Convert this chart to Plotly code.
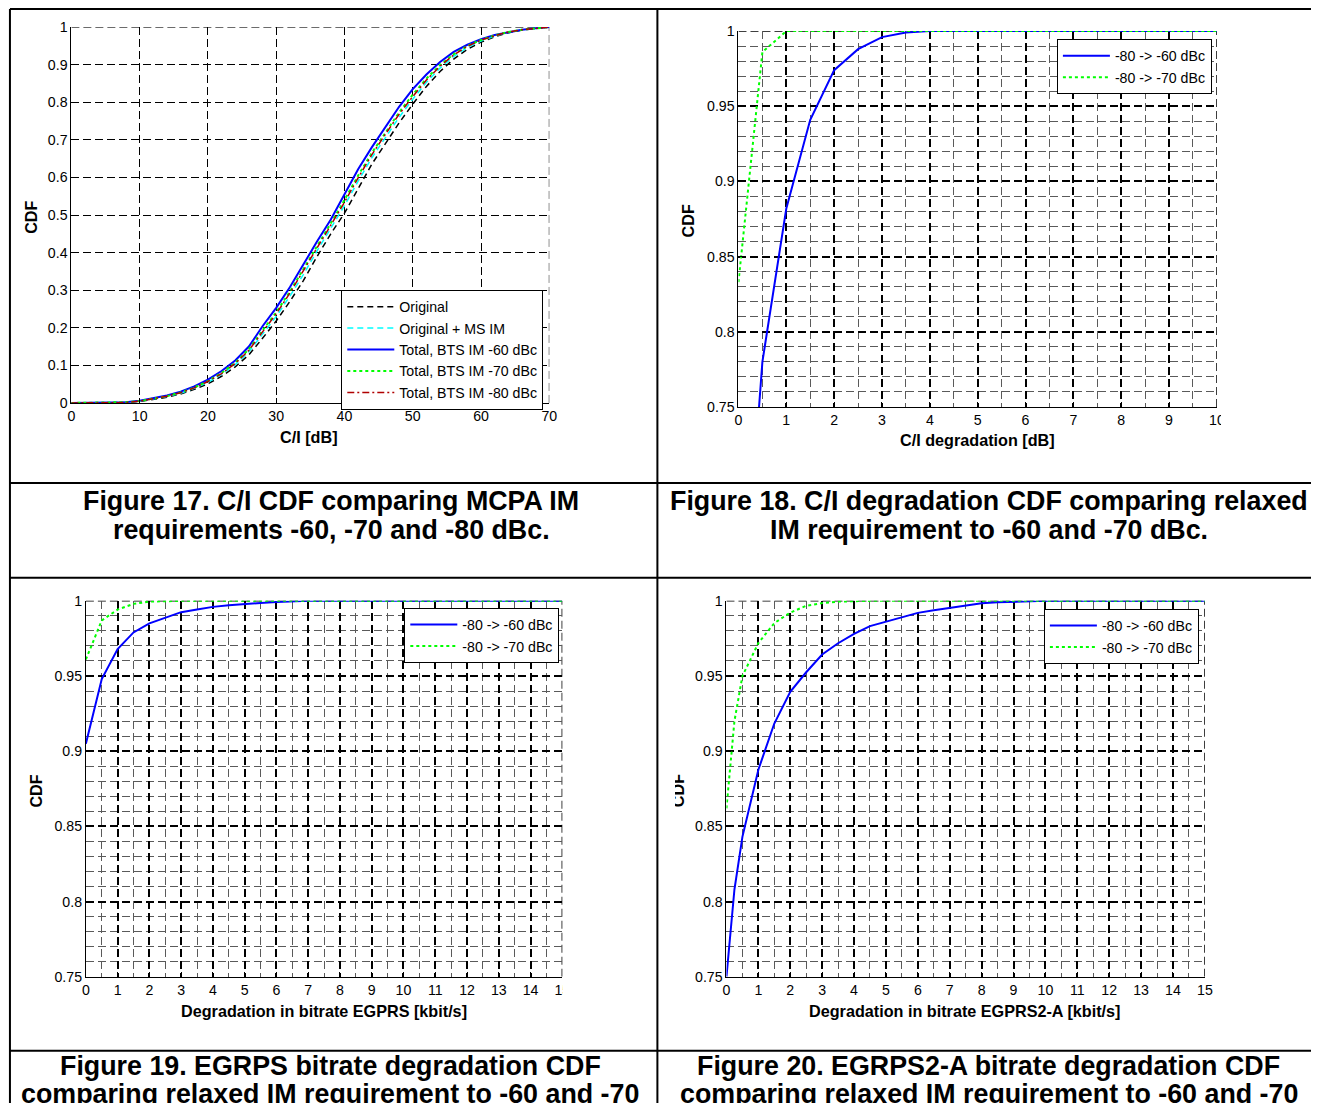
import plotly.graph_objects as go

W, H = 1319, 1111
FONT = "Liberation Sans, Arial, Helvetica, sans-serif"

# ---------------- data ----------------
# Figure 17: C/I CDF
ci_x = [0, 5, 8, 10, 12, 14, 16, 18, 20, 22, 24, 26, 28, 30, 32, 34, 36, 38, 40,
        42, 44, 46, 48, 50, 52, 54, 56, 58, 60, 62, 64, 66, 68, 70]
ci_original = [0, 0, 0.001, 0.004, 0.009, 0.015, 0.024, 0.036, 0.051, 0.071, 0.096, 0.128,
               0.172, 0.218, 0.27, 0.326, 0.39, 0.45, 0.505, 0.572, 0.635, 0.69, 0.745,
               0.795, 0.842, 0.882, 0.915, 0.941, 0.96, 0.974, 0.985, 0.992, 0.997, 1.0]
ci_original_ms = [0, 0, 0.001, 0.005, 0.01, 0.017, 0.026, 0.039, 0.055, 0.076, 0.102, 0.136,
                  0.183, 0.23, 0.284, 0.342, 0.405, 0.466, 0.525, 0.59, 0.652, 0.706, 0.76,
                  0.808, 0.853, 0.891, 0.922, 0.946, 0.963, 0.976, 0.986, 0.993, 0.997, 1.0]
ci_bts60 = [0, 0, 0.002, 0.006, 0.012, 0.02, 0.03, 0.044, 0.062, 0.085, 0.113, 0.15,
            0.204, 0.253, 0.308, 0.37, 0.43, 0.488, 0.553, 0.622, 0.68, 0.735, 0.788,
            0.835, 0.874, 0.907, 0.934, 0.953, 0.968, 0.979, 0.987, 0.993, 0.997, 1.0]
ci_bts70 = [0, 0, 0.002, 0.005, 0.011, 0.018, 0.028, 0.041, 0.058, 0.08, 0.107, 0.143,
            0.193, 0.241, 0.296, 0.356, 0.418, 0.478, 0.54, 0.605, 0.665, 0.72, 0.773,
            0.82, 0.863, 0.899, 0.928, 0.95, 0.966, 0.978, 0.987, 0.993, 0.997, 1.0]
ci_bts80 = [0, 0, 0.001, 0.005, 0.011, 0.018, 0.027, 0.04, 0.057, 0.078, 0.105, 0.14,
            0.189, 0.237, 0.292, 0.351, 0.413, 0.473, 0.534, 0.599, 0.66, 0.715, 0.768,
            0.815, 0.859, 0.896, 0.926, 0.949, 0.965, 0.977, 0.987, 0.993, 0.997, 1.0]
ci_names = ["Original", "Original + MS IM", "Total, BTS IM -60 dBc",
            "Total, BTS IM -70 dBc", "Total, BTS IM -80 dBc"]

# Figure 18: C/I degradation CDF
deg_x = [0, 0.5, 1, 1.5, 2, 2.5, 3, 3.5, 4, 4.5, 5, 5.5, 6, 6.5, 7, 7.5, 8, 8.5, 9, 9.5, 10]
deg_60 = [0.565, 0.780, 0.882, 0.941, 0.974, 0.988, 0.996, 0.999, 1, 1, 1,
          1, 1, 1, 1, 1, 1, 1, 1, 1, 1]
deg_70 = [0.833, 0.986, 1, 1, 1, 1, 1, 1, 1, 1, 1,
          1, 1, 1, 1, 1, 1, 1, 1, 1, 1]

# Figure 19: EGPRS bitrate degradation CDF
egprs_x = [0, 0.5, 1, 1.5, 2, 2.5, 3, 3.5, 4, 4.5, 5, 5.5, 6, 6.5, 7, 7.5,
           8, 8.5, 9, 9.5, 10, 10.5, 11, 11.5, 12, 12.5, 13, 13.5, 14, 14.5, 15]
egprs_60 = [0.905, 0.948, 0.968, 0.979, 0.985, 0.989, 0.9925, 0.9942, 0.996, 0.997,
            0.998, 0.9986, 0.9992, 0.9997, 1, 1, 1, 1, 1, 1, 1, 1, 1, 1, 1, 1, 1, 1, 1, 1, 1]
egprs_70 = [0.961, 0.987, 0.9942, 0.998, 0.9995, 1, 1, 1, 1, 1, 1, 1, 1, 1, 1, 1,
            1, 1, 1, 1, 1, 1, 1, 1, 1, 1, 1, 1, 1, 1, 1]

# Figure 20: EGPRS2-A bitrate degradation CDF
egprs2_x = [0, 0.25, 0.5, 1, 1.5, 2, 2.5, 3, 3.5, 4, 4.5, 5, 5.5, 6, 6.5, 7, 7.5,
            8, 8.5, 9, 9.5, 10, 10.5, 11, 11.5, 12, 12.5, 13, 13.5, 14, 14.5, 15]
egprs2_60 = [0.75, 0.808, 0.843, 0.8877, 0.9184, 0.9395, 0.9525, 0.9643, 0.9718, 0.978,
             0.9832, 0.9862, 0.9893, 0.992, 0.9938, 0.9952, 0.997, 0.9984, 0.999, 0.9995,
             0.9998, 1, 1, 1, 1, 1, 1, 1, 1, 1, 1, 1]
egprs2_70 = [0.862, 0.92, 0.95, 0.9719, 0.9852, 0.9922, 0.9967, 0.9985, 0.9995, 1,
             1, 1, 1, 1, 1, 1, 1, 1, 1, 1, 1, 1, 1, 1, 1, 1, 1, 1, 1, 1, 1, 1]
deg_names = ["-80 -> -60 dBc", "-80 -> -70 dBc"]

# tick labels
ci_xticks = [0, 10, 20, 30, 40, 50, 60, 70]
ci_xtext = ["0", "10", "20", "30", "40", "50", "60", "70"]
ci_yticks = [0, 0.1, 0.2, 0.3, 0.4, 0.5, 0.6, 0.7, 0.8, 0.9, 1]
ci_ytext = ["0", "0.1", "0.2", "0.3", "0.4", "0.5", "0.6", "0.7", "0.8", "0.9", "1"]
deg_xticks = [0, 1, 2, 3, 4, 5, 6, 7, 8, 9, 10]
deg_xtext = ["0", "1", "2", "3", "4", "5", "6", "7", "8", "9", "10"]
br_xticks = [0, 1, 2, 3, 4, 5, 6, 7, 8, 9, 10, 11, 12, 13, 14, 15]
br_xtext = ["0", "1", "2", "3", "4", "5", "6", "7", "8", "9", "10", "11", "12", "13", "14", "15"]
zoom_yticks = [0.75, 0.8, 0.85, 0.9, 0.95, 1]
zoom_ytext = ["0.75", "0.8", "0.85", "0.9", "0.95", "1"]

captions = [
    ("Figure 17. C/I CDF comparing MCPA IM", "requirements -60, -70 and -80 dBc."),
    ("Figure 18. C/I degradation CDF comparing relaxed", "IM requirement to -60 and -70 dBc."),
    ("Figure 19. EGRPS bitrate degradation CDF", "comparing relaxed IM requirement to -60 and -70"),
    ("Figure 20. EGRPS2-A bitrate degradation CDF", "comparing relaxed IM requirement to -60 and -70"),
]
xtitles = ["C/I [dB]", "C/I degradation [dB]", "Degradation in bitrate EGPRS [kbit/s]",
           "Degradation in bitrate EGPRS2-A [kbit/s]"]
ytitle = "CDF"

# ---------------- geometry helpers ----------------
# The photographed page shows the figure slightly shrunk and offset, so positions
# measured on the reference picture are mapped back to figure pixels.
SX, OX = 0.99, 4.2
SY, OY = 0.986, 7.9
SC = (SX + SY) / 2

def pxx(t, lo=1):
    return min(max((t - OX) / SX, lo), W) / W

def pxy(t, lo=1):
    return 1 - min(max((t - OY) / SY, lo), H) / H

def fs(v):
    return round(v / SC, 2)

GRID_DASH = "8px,4px"

def make_axis(dom, rng, tv, tt, minor_dtick=None, anchor=None, gw=1):
    d = dict(domain=dom, range=rng, tickmode="array", tickvals=tv, ticktext=tt,
             showgrid=True, gridcolor="black", gridwidth=gw, griddash=GRID_DASH,
             zeroline=False, showline=True, linecolor="black", linewidth=1,
             ticks="inside", ticklen=5, tickcolor="black", tickwidth=1,
             tickfont=dict(family=FONT, size=fs(14), color="black"), fixedrange=True,
             anchor=anchor, mirror=False)
    if minor_dtick is not None:
        d["minor"] = dict(tickmode="linear", tick0=rng[0], dtick=minor_dtick, showgrid=True,
                          gridcolor="#5a5a5a", gridwidth=1, griddash=GRID_DASH, ticks="")
    return d

fig = go.Figure()

# panel geometry (pixels in the reference picture)
panels = [
    dict(x0=71.5, x1=549, y0=27, y1=403),
    dict(x0=738, x1=1216, y0=31, y1=407),
    dict(x0=86, x1=562, y0=601, y1=977),
    dict(x0=726, x1=1204, y0=601, y1=977),
]

# ---- Figure 17 traces
styles17 = [
    dict(color="black", width=1.5, dash="6px,4px"),
    dict(color="#00FFFF", width=1.5, dash="6px,4px"),
    dict(color="#0000FF", width=2),
    dict(color="#00FF00", width=2, dash="dot"),
    dict(color="#B00000", width=1.5, dash="7px,3px,2px,3px"),
]
for name, ys, st in zip(ci_names, [ci_original, ci_original_ms, ci_bts60, ci_bts70, ci_bts80], styles17):
    fig.add_trace(go.Scatter(x=ci_x, y=ys, name=name, mode="lines", line=st,
                             xaxis="x", yaxis="y", legend="legend", hoverinfo="skip"))

blue = dict(color="#0000FF", width=2)
green = dict(color="#00FF00", width=2, dash="dot")
for ax_i, (xs, y60, y70) in enumerate([(deg_x, deg_60, deg_70),
                                       (egprs_x, egprs_60, egprs_70),
                                       (egprs2_x, egprs2_60, egprs2_70)], start=2):
    leg = "legend%d" % ax_i
    fig.add_trace(go.Scatter(x=xs, y=y60, name=deg_names[0], mode="lines", line=blue,
                             xaxis="x%d" % ax_i, yaxis="y%d" % ax_i, legend=leg, hoverinfo="skip"))
    fig.add_trace(go.Scatter(x=xs, y=y70, name=deg_names[1], mode="lines", line=green,
                             xaxis="x%d" % ax_i, yaxis="y%d" % ax_i, legend=leg, hoverinfo="skip"))

ranges = [([0, 70], [0, 1]), ([0, 10], [0.75, 1]), ([0, 15], [0.75, 1]), ([0, 15], [0.75, 1])]
xt = [(ci_xticks, ci_xtext), (deg_xticks, deg_xtext), (br_xticks, br_xtext), (br_xticks, br_xtext)]
yt = [(ci_yticks, ci_ytext), (zoom_yticks, zoom_ytext), (zoom_yticks, zoom_ytext), (zoom_yticks, zoom_ytext)]

layout = dict(margin=dict(l=0, r=0, t=0, b=0), autosize=True,
              paper_bgcolor="white", plot_bgcolor="white", showlegend=True,
              font=dict(family=FONT, color="black"))
shapes = []
for i, p in enumerate(panels):
    sfx = "" if i == 0 else str(i + 1)
    xdom = [pxx(p["x0"]), pxx(p["x1"])]
    ydom = [pxy(p["y1"]), pxy(p["y0"])]
    minor_x = None if i == 0 else 0.5
    minor_y = None if i == 0 else 0.01
    gw = 1 if i == 0 else 1.5
    layout["xaxis" + sfx] = make_axis(xdom, ranges[i][0], xt[i][0], xt[i][1], minor_x, "y" + sfx, gw)
    layout["yaxis" + sfx] = make_axis(ydom, ranges[i][1], yt[i][0], yt[i][1], minor_y, "x" + sfx, gw)
    xr, yr = ranges[i]
    xref = "x" + sfx
    yref = "y" + sfx
    # dashed frame on top and right (MATLAB grid at axis limits)
    shapes.append(dict(type="line", xref=xref, yref=yref, x0=xr[0], x1=xr[1], y0=yr[1], y1=yr[1],
                       line=dict(color="black", width=gw, dash=GRID_DASH), layer="below"))
    shapes.append(dict(type="line", xref=xref, yref=yref, x0=xr[1], x1=xr[1], y0=yr[0], y1=yr[1],
                       line=dict(color="black", width=gw, dash=GRID_DASH), layer="below"))

# table lines
TL = dict(color="black", width=2)
for yy in [8, 483, 578, 1051]:
    shapes.append(dict(type="line", xref="paper", yref="paper", x0=pxx(6, 6), x1=1,
                       y0=pxy(yy), y1=pxy(yy), line=TL))
for xx in [6, 657]:
    shapes.append(dict(type="line", xref="paper", yref="paper", x0=pxx(xx, 6), x1=pxx(xx, 6),
                       y0=pxy(8), y1=0, line=TL))
layout["shapes"] = shapes

# legends
leg_font = dict(family=FONT, size=fs(14), color="black")
legpos = [(543, 290), (1211, 39), (559, 608), (1198, 609)]
for i, (lx, ly) in enumerate(legpos):
    key = "legend" if i == 0 else "legend%d" % (i + 1)
    layout[key] = dict(x=pxx(lx), y=pxy(ly), xanchor="right", yanchor="top", xref="paper", yref="paper",
                       bgcolor="white", bordercolor="black", borderwidth=1, font=leg_font,
                       itemwidth=47, tracegroupgap=0)

ann = []
def text_ann(txt, x, y, size, bold=True, angle=0):
    t = "<b>%s</b>" % txt if bold else txt
    ann.append(dict(text=t, x=pxx(x), y=pxy(y), xref="paper", yref="paper", showarrow=False,
                    xanchor="center", yanchor="middle", textangle=angle,
                    font=dict(family=FONT, size=fs(size), color="black")))

cap_pos = [(331, 501, 530), (988, 501, 530), (330, 1066, 1094), (988, 1066, 1094)]
for (l1, l2), (cx, cy1, cy2) in zip(captions, cap_pos):
    text_ann(l1, cx, cy1, 26.5)
    text_ann(l2, cx, cy2, 26.5)

xt_pos = [(309, 437), (977, 440), (324, 1011), (964, 1011)]
yt_pos = [(31, 217), (688, 221), (36, 791), (677, 791)]
for t, (x, y) in zip(xtitles, xt_pos):
    text_ann(t, x, y, 16)
for (x, y) in yt_pos:
    text_ann(ytitle, x, y, 16, angle=-90)

# white masks reproducing the cropped edges of the original images
def mask(x0, y0, x1, y1):
    ann.append(dict(text=" ", x=pxx((x0 + x1) / 2), y=pxy((y0 + y1) / 2), xref="paper", yref="paper",
                    showarrow=False, xanchor="center", yanchor="middle",
                    width=fs(x1 - x0), height=fs(y1 - y0),
                    bgcolor="white", borderpad=0, borderwidth=0))
mask(1220, 410, 1240, 430)
mask(563, 980, 585, 1000)
mask(660, 765, 675, 815)
layout["annotations"] = ann

fig.update_layout(**layout)
# the plot div is sized to the window and pulled over the default 8px body margin
fig.write_html("out.html",
               config={"displayModeBar": False, "responsive": False},
               default_width="%dpx" % W,
               default_height="%dpx; margin:-8px" % H)
